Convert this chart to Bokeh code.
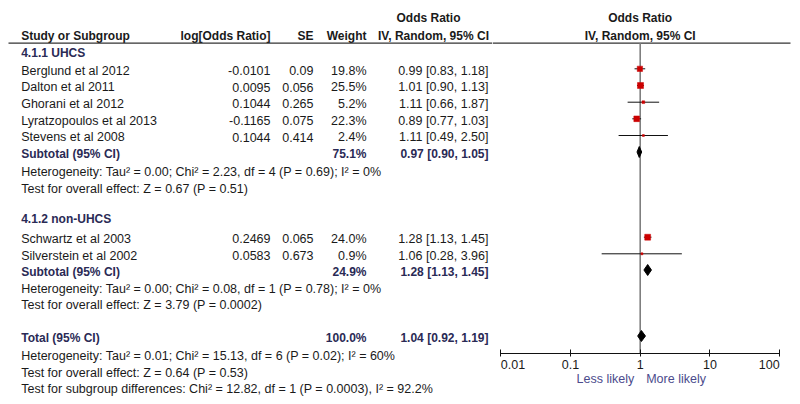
from bokeh.plotting import figure
from bokeh.models import Range1d, FixedTicker
from bokeh.layouts import row
from bokeh.core.properties import value
from bokeh.embed import file_html
from bokeh.resources import INLINE
import math

# ---------------- data ----------------
studies = ["Berglund et al 2012", "Dalton et al 2011", "Ghorani et al 2012",
           "Lyratzopoulos et al 2013", "Stevens et al 2008",
           "Schwartz et al 2003", "Silverstein et al 2002"]
log_or = ["-0.0101", "0.0095", "0.1044", "-0.1165", "0.1044", "0.2469", "0.0583"]
se = ["0.09", "0.056", "0.265", "0.075", "0.414", "0.065", "0.673"]
weight = [19.8, 25.5, 5.2, 22.3, 2.4, 24.0, 0.9]
or_est = [0.99, 1.01, 1.11, 0.89, 1.11, 1.28, 1.06]
ci_lo = [0.83, 0.90, 0.66, 0.77, 0.49, 1.13, 0.28]
ci_hi = [1.18, 1.13, 1.87, 1.03, 2.50, 1.45, 3.96]

groups = ["4.1.1 UHCS", "4.1.2 non-UHCS"]
sub_weight = [75.1, 24.9]
sub_est = [0.97, 1.28]
sub_lo = [0.90, 1.13]
sub_hi = [1.05, 1.45]
sub_het = ["Heterogeneity: Tau\u00b2 = 0.00; Chi\u00b2 = 2.23, df = 4 (P = 0.69); I\u00b2 = 0%",
           "Heterogeneity: Tau\u00b2 = 0.00; Chi\u00b2 = 0.08, df = 1 (P = 0.78); I\u00b2 = 0%"]
sub_test = ["Test for overall effect: Z = 0.67 (P = 0.51)",
            "Test for overall effect: Z = 3.79 (P = 0.0002)"]

total_weight = 100.0
total_est = 1.04
total_lo = 0.92
total_hi = 1.19
total_lines = ["Heterogeneity: Tau\u00b2 = 0.01; Chi\u00b2 = 15.13, df = 6 (P = 0.02); I\u00b2 = 60%",
               "Test for overall effect: Z = 0.64 (P = 0.53)",
               "Test for subgroup differences: Chi\u00b2 = 12.82, df = 1 (P = 0.0003), I\u00b2 = 92.2%"]

tick_values = [0.01, 0.1, 1, 10, 100]
tick_labels = ["0.01", "0.1", "1", "10", "100"]
favours = ["Less likely", "More likely"]

# ---------------- layout (screen-like coordinates) ----------------
FONT = value("Liberation Sans")
FS = "12.5px"
FSB = "12px"
TXT = "#1a1a1a"
HEAD = "#2a2a55"
FAV = "#4b4b8c"
TXT_DY = 1.7

study_y = [68.3, 85.0, 101.7, 118.3, 135.0, 236.7, 253.3]
group_y = [50.5, 216.5]
sub_y = [151.5, 269.5]
het_y = [170.0, 286.5]
test_y = [186.5, 303.0]
total_y = 335.5
total_line_y = [353.5, 370.5, 386.5]
head1_y, head2_y, rule_y = 15.5, 33.5, 42.7
axis_y = 352.7
tick_label_y = 364
fav_y = 378

X_NAME, X_LOG, X_SE, X_W, X_CI = 20.7, 270, 313, 366, 488
RULE_X0, RULE_X1 = 8, 790

W1, W2, H = 492, 308, 404
CENTER_PX, DECADE_PX = 639.7, 69.7
lg_start = (W1 - CENTER_PX) / DECADE_PX
lg_end = (W1 + W2 - CENTER_PX) / DECADE_PX


def base_fig(**kw):
    p = figure(width=kw.pop("width"), height=H, output_backend="svg",
               toolbar_location=None, min_border=0, **kw)
    p.outline_line_color = None
    p.grid.visible = False
    return p


p1 = base_fig(width=W1, x_range=Range1d(0, W1), y_range=Range1d(H, 0))
p1.axis.visible = False


def txt(p, x, y, t, align="left", bold=False, color=TXT):
    p.text(x=x, y=y, text=t, text_align=align, text_baseline="middle",
           text_font=FONT, text_font_size=FSB if bold else FS, text_color=color,
           text_font_style="bold" if bold else "normal", y_offset=TXT_DY)


# headers
txt(p1, [X_NAME], [head2_y], ["Study or Subgroup"], bold=True)
txt(p1, [X_LOG], [head2_y], ["log[Odds Ratio]"], align="right", bold=True)
txt(p1, [X_SE], [head2_y], ["SE"], align="right", bold=True)
txt(p1, [X_W], [head2_y], ["Weight"], align="right", bold=True)
txt(p1, [428], [head1_y], ["Odds Ratio"], align="center", bold=True)
txt(p1, [433], [head2_y], ["IV, Random, 95% CI"], align="center", bold=True)
p1.segment(x0=[RULE_X0], x1=[W1], y0=[rule_y], y1=[rule_y], line_color="#333333", line_width=1.3)

# studies
ci_txt = [f"{e:.2f} [{l:.2f}, {h:.2f}]" for e, l, h in zip(or_est, ci_lo, ci_hi)]
w_txt = [f"{w:.1f}%" for w in weight]
n = len(studies)
txt(p1, [X_NAME] * n, study_y, studies)
txt(p1, [X_LOG] * n, study_y, log_or, align="right")
txt(p1, [X_SE] * n, study_y, se, align="right")
txt(p1, [X_W] * n, study_y, w_txt, align="right")
txt(p1, [X_CI] * n, study_y, ci_txt, align="right")

# groups & subtotals
txt(p1, [X_NAME] * 2, group_y, groups, bold=True, color=HEAD)
txt(p1, [X_NAME] * 2, sub_y, ["Subtotal (95% CI)"] * 2, bold=True, color=HEAD)
txt(p1, [X_W] * 2, sub_y, [f"{w:.1f}%" for w in sub_weight], align="right", bold=True, color=HEAD)
txt(p1, [X_CI] * 2, sub_y, [f"{e:.2f} [{l:.2f}, {h:.2f}]" for e, l, h in zip(sub_est, sub_lo, sub_hi)],
    align="right", bold=True, color=HEAD)
txt(p1, [X_NAME] * 2, het_y, sub_het)
txt(p1, [X_NAME] * 2, test_y, sub_test)

# total
txt(p1, [X_NAME], [total_y], ["Total (95% CI)"], bold=True, color=HEAD)
txt(p1, [X_W], [total_y], [f"{total_weight:.1f}%"], align="right", bold=True, color=HEAD)
txt(p1, [X_CI], [total_y], [f"{total_est:.2f} [{total_lo:.2f}, {total_hi:.2f}]"], align="right",
    bold=True, color=HEAD)
txt(p1, [X_NAME] * 3, total_line_y, total_lines)

# ---------------- forest plot ----------------
p2 = base_fig(width=W2, x_axis_type="log", x_range=Range1d(10 ** lg_start, 10 ** lg_end),
              y_range=Range1d(H, 0))
p2.yaxis.visible = False
ax = p2.xaxis[0]
ax.fixed_location = axis_y
ax.bounds = (tick_values[0], tick_values[-1])
ax.ticker = FixedTicker(ticks=tick_values, minor_ticks=[])
ax.major_label_text_color = None
ax.axis_line_color = "#111111"
ax.major_tick_line_color = "#111111"
ax.major_tick_in = 4
ax.major_tick_out = 3
ax.minor_tick_line_color = None

p2.segment(x0=[10 ** lg_start], x1=[10 ** ((RULE_X1 - CENTER_PX) / DECADE_PX)], y0=[rule_y], y1=[rule_y],
           line_color="#333333", line_width=1.3)
p2.segment(x0=[1], x1=[1], y0=[rule_y], y1=[axis_y], line_color="#7f7f7f", line_width=1.6)

# CIs and squares
p2.segment(x0=ci_lo, x1=ci_hi, y0=study_y, y1=study_y, line_color="#111111", line_width=1)
sizes = [max(2.0, 1.2 * math.sqrt(w)) for w in weight]
p2.scatter(x=or_est, y=study_y, size=sizes, marker="square", fill_color="#cc0000",
           line_color="#cc0000", line_width=0.5)

# diamonds
DH = 5.5
d_est = sub_est + [total_est]
d_lo = sub_lo + [total_lo]
d_hi = sub_hi + [total_hi]
d_y = sub_y + [total_y]
xs = [[l, e, h, e] for e, l, h in zip(d_est, d_lo, d_hi)]
ys = [[y, y - DH, y, y + DH] for y in d_y]
p2.patches(xs=xs, ys=ys, fill_color="black", line_color="black", line_width=1)

# headers on plot
txt(p2, [1], [head1_y], ["Odds Ratio"], align="center", bold=True)
txt(p2, [1], [head2_y], ["IV, Random, 95% CI"], align="center", bold=True)

# tick labels
aligns = ["left"] + ["center"] * (len(tick_values) - 2) + ["right"]
p2.text(x=tick_values, y=[tick_label_y] * len(tick_values), text=tick_labels, text_align=aligns,
        text_baseline="middle", text_font=FONT, text_font_size=FS, text_color=TXT)

p2.text(x=[1, 1], y=[fav_y, fav_y], text=favours, text_align=["right", "left"],
        x_offset=[-6, 6], text_baseline="middle", text_font=FONT, text_font_size=FS, text_color=FAV)

layout = row(p1, p2)
open("out.html", "w").write(file_html(layout, INLINE))
